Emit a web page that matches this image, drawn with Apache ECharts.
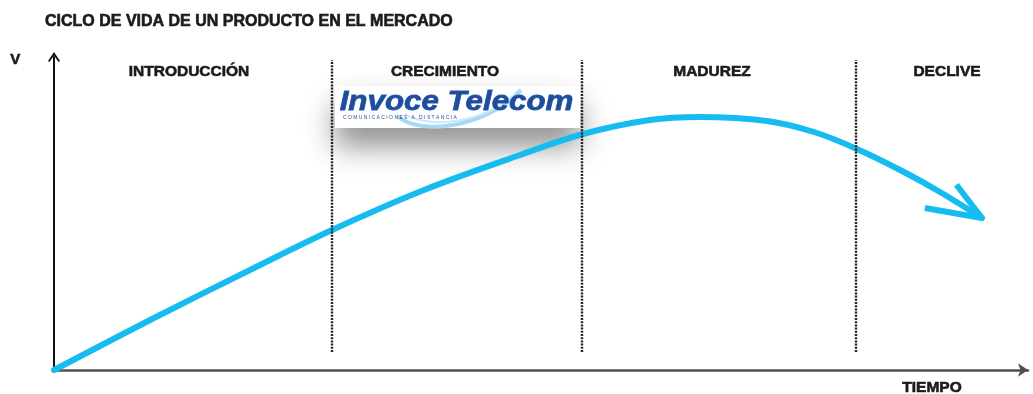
<!DOCTYPE html>
<html>
<head>
<meta charset="utf-8">
<script src="https://cdn.jsdelivr.net/npm/echarts@6/dist/echarts.min.js"></script>
<style>
  html, body { margin: 0; padding: 0; background: #fff; }
  #chart { width: 1033px; height: 394px; }
</style>
</head>
<body>
<div id="chart"></div>
<script>
// Product life-cycle curve: sales volume (V) over time (TIEMPO)
const chartTitle = 'CICLO DE VIDA DE UN PRODUCTO EN EL MERCADO';
const phaseNames = ['INTRODUCCIÓN', 'CRECIMIENTO', 'MADUREZ', 'DECLIVE'];
const phaseLabelTime = [135, 391, 658, 893];
const phaseLabelLevel = 298;
const phaseBoundaries = [278, 528, 802];
const boundarySpan = [18, 310];
const timeValues  = [0, 100, 200, 278, 370, 466, 529, 596, 646, 713, 760, 803, 850, 886, 928];
const salesValues = [0, 52, 102, 140, 180, 215, 236, 250, 253, 249, 238, 221, 198, 178, 152];
const timeMax = 974;
const salesMax = 313;

const FONT = '"Liberation Sans", Arial, sans-serif';
const INK = '#1b1b1b';
const CURVE = '#16bcef';

const curveData = timeValues.map((t, i) => [t, salesValues[i]]);
const n = curveData.length;
const arrowData = [[curveData[n - 1][0], curveData[n - 1][1], curveData[n - 2][0], curveData[n - 2][1]]];

const chart = echarts.init(document.getElementById('chart'), null, { renderer: 'canvas' });

chart.setOption({
  animation: false,
  backgroundColor: '#fff',
  title: {
    text: chartTitle,
    left: 40,
    top: 9,
    textStyle: {
      fontFamily: FONT, fontSize: 16, fontWeight: 'bold', color: INK,
      textBorderColor: INK, textBorderWidth: 0.6
    }
  },
  grid: { left: 54, right: 5, top: 57, bottom: 24 },
  xAxis: {
    type: 'value', min: 0, max: timeMax,
    axisLine: {
      show: true, onZero: false,
      symbol: ['none', 'arrow'], symbolSize: [10, 10],
      lineStyle: { color: '#505050', width: 2.5 }
    },
    axisTick: { show: false }, axisLabel: { show: false }, splitLine: { show: false }
  },
  yAxis: {
    type: 'value', min: 0, max: salesMax,
    axisLine: {
      show: true, onZero: false,
      symbol: ['none', 'path://M0,9 L6,0 L12,9 L10.6,10 L6,3.4 L1.4,10 Z'],
      symbolSize: [12, 10],
      lineStyle: { color: '#111', width: 2 }
    },
    axisTick: { show: false }, axisLabel: { show: false }, splitLine: { show: false }
  },
  series: [
    {
      name: 'Ventas',
      type: 'line',
      data: curveData,
      smooth: 0.35,
      showSymbol: false,
      lineStyle: { color: CURVE, width: 6, cap: 'round' },
      z: 3,
      markLine: {
        silent: true,
        symbol: 'none',
        label: { show: false },
        lineStyle: { type: [2, 1.2], color: '#222', width: 2.4 },
        data: phaseBoundaries.map(t => [{ coord: [t, boundarySpan[0]] }, { coord: [t, boundarySpan[1]] }])
      }
    },
    {
      // open chevron head at the end of the curve
      name: 'Flecha',
      type: 'custom',
      data: arrowData,
      z: 4,
      renderItem: function (params, api) {
        const tip = api.coord([api.value(0), api.value(1)]);
        const prev = api.coord([api.value(2), api.value(3)]);
        const back = Math.atan2(prev[1] - tip[1], prev[0] - tip[0]);
        const a1 = back + 0.36, a2 = back - 0.38;
        const w1 = [tip[0] + 42 * Math.cos(a1), tip[1] + 42 * Math.sin(a1)];
        const w2 = [tip[0] + 58 * Math.cos(a2), tip[1] + 58 * Math.sin(a2)];
        return {
          type: 'polyline',
          shape: { points: [w1, tip, w2] },
          style: { stroke: CURVE, lineWidth: 6, fill: null, lineJoin: 'bevel' }
        };
      }
    },
    {
      name: 'Fases',
      type: 'scatter',
      symbolSize: 0,
      silent: true,
      itemStyle: { opacity: 1 },
      data: phaseLabelTime.map((t, i) => ({ name: phaseNames[i], value: [t, phaseLabelLevel] })),
      label: {
        show: true, position: 'inside', formatter: '{b}',
        fontFamily: FONT, fontSize: 15.5, fontWeight: 'bold', color: INK,
        textBorderColor: INK, textBorderWidth: 0.6
      }
    }
  ],
  graphic: [
    {
      type: 'text', left: 10, top: 52,
      style: { text: 'V', font: 'bold 15px ' + FONT, fill: INK, stroke: INK, lineWidth: 0.6 }
    },
    {
      type: 'text', left: 902, top: 379,
      style: { text: 'TIEMPO', font: 'bold 15.5px ' + FONT, fill: INK, stroke: INK, lineWidth: 0.6 }
    },
    {
      type: 'group', x: 335, y: 86, z: 10,
      children: [
        {
          type: 'rect',
          shape: { x: 0, y: 0, width: 245, height: 42 },
          style: { fill: '#fff', shadowBlur: 30, shadowOffsetY: 18, shadowColor: 'rgba(0,0,0,0.45)' }
        },
        {
          type: 'bezierCurve',
          shape: { x1: 62, y1: 30, cpx1: 85, cpy1: 50, cpx2: 150, cpy2: 42, x2: 186, y2: 4 },
          style: { stroke: '#a8d8f5', lineWidth: 4, fill: null }
        },
        {
          type: 'bezierCurve',
          shape: { x1: 70, y1: 28, cpx1: 95, cpy1: 44, cpx2: 150, cpy2: 36, x2: 180, y2: 8 },
          style: { stroke: '#cbe8fa', lineWidth: 2, fill: null }
        },
        {
          type: 'text', scaleX: 1.16,
          style: { x: 4, y: 3, text: 'Invoce Telecom', font: 'italic bold 27px ' + FONT, fill: '#1f4d9b', stroke: '#2f62b4', lineWidth: 0.8 }
        },
        {
          type: 'text',
          style: { x: 8, y: 29, text: 'C O M U N I C A C I O N E S   A   D I S T A N C I A', font: '5px ' + FONT, fill: '#2b4f8c' }
        }
      ]
    }
  ]
});
</script>
</body>
</html>
